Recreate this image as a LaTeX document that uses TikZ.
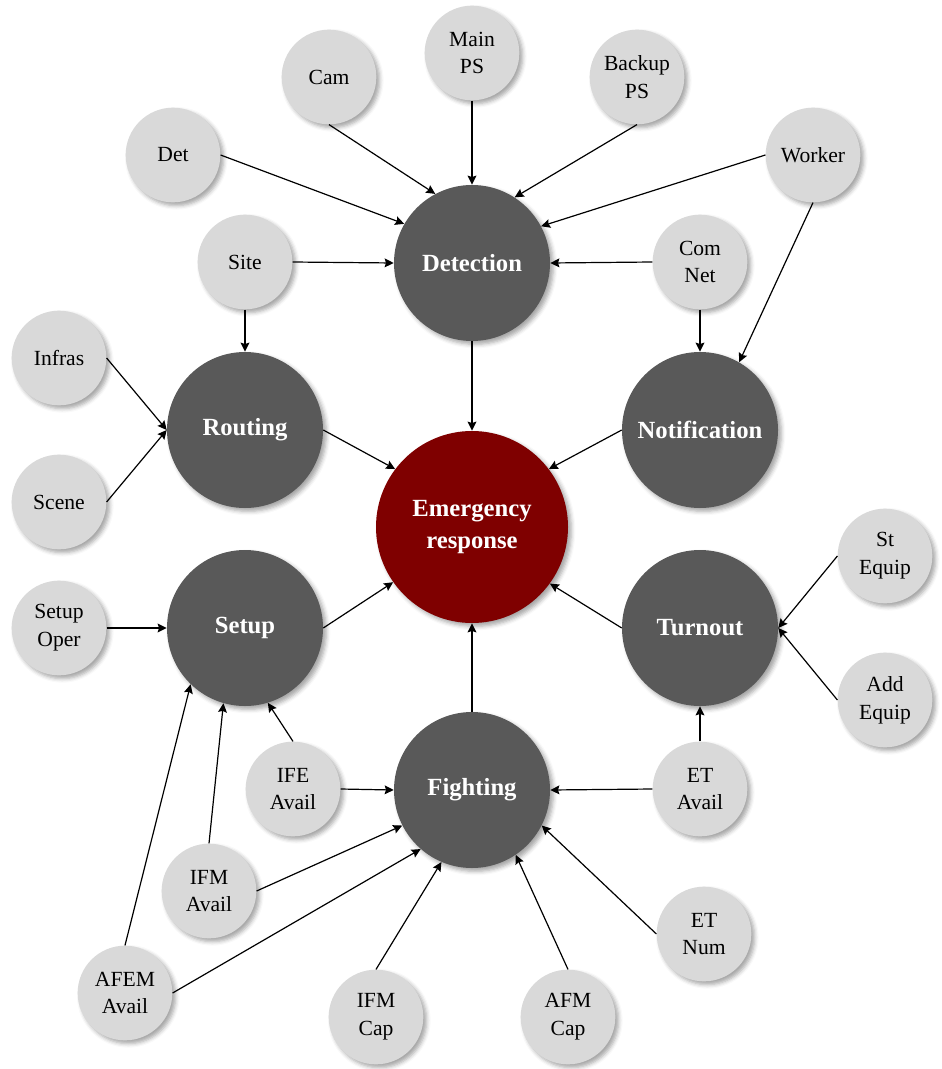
\documentclass[tikz,border=0pt]{standalone}
\usepackage{fontspec}
\setmainfont{Liberation Serif}
\usetikzlibrary{arrows.meta, shadows.blur}
\definecolor{factgray}{HTML}{D9D9D9}
\definecolor{stagegray}{HTML}{595959}
\definecolor{respred}{HTML}{7F0000}

\begin{document}
\begin{tikzpicture}[
  x=0.75pt, y=-0.75pt,
  >={Stealth[length=6.8pt, width=6.6pt, inset=1pt]},
  shade/.style={blur shadow={shadow xshift=2.5pt, shadow yshift=-2.5pt,
    shadow blur radius=3pt, shadow opacity=35}},
  factor/.style={
    circle, fill=factgray, shade, minimum size=71pt, inner sep=0pt,
    align=center, text=black, font=\fontsize{16.2}{20.8}\selectfont,
  },
  stage/.style={
    circle, fill=stagegray, shade, minimum size=117pt, inner sep=0pt,
    align=center, text=white, font=\fontsize{18.5}{23.5}\selectfont\bfseries,
  },
  core/.style={stage, fill=respred, minimum size=144pt},
  arr/.style={->, line width=0.9pt, black},
]
\useasboundingbox (0,0) rectangle (941,1069);

% === STAGES ===
\node[core] (resp) at (472,527) {Emergency\\response};
\node[stage] (detect) at (472,263) {Detection};
\node[stage] (rout) at (245,430) {Routing};
\node[stage] (notif) at (700,430) {Notification};
\node[stage] (setup) at (245,628) {Setup};
\node[stage] (turn) at (700,628) {Turnout};
\node[stage] (fight) at (472,790) {Fighting};

% === FACTORS ===
\foreach \nm/\px/\py/\txt in {
    cam/329/77/Cam, mainps/472/53/Main\\PS, backps/637/77/Backup\\PS,
    det/173/155/Det, worker/813/155/Worker,
    site/245/262/Site, comnet/700/262/Com\\Net,
    infras/59/358/Infras, scene/59/502/Scene, setoper/59/628/Setup\\Oper,
    stequip/885/556/St\\Equip, addequip/885/700/Add\\Equip,
    ifeav/293/789/IFE\\Avail, etav/700/789/ET\\Avail,
    ifmav/209/891/IFM\\Avail, etnum/704/934/ET\\Num,
    afem/125/993/AFEM\\Avail, ifmcap/376/1017/IFM\\Cap, afmcap/568/1017/AFM\\Cap} {
  \node[factor] (\nm) at (\px,\py) {\txt};
}

% Detection inputs
\draw[arr] (det.east) -- (detect.150);
\draw[arr] (cam.south) -- (detect.118);
\draw[arr] (mainps.south) -- (detect.north);
\draw[arr] (backps.south) -- (detect.57);
\draw[arr] (worker.west) -- (detect.28);
\draw[arr] (site.east) -- (detect.west);
\draw[arr] (comnet.west) -- (detect.east);

% Notification and routing inputs
\draw[arr] (comnet.south) -- (notif.north);
\draw[arr] (worker.south) -- (notif.60);
\draw[arr] (site.south) -- (rout.north);
\draw[arr] (infras.east) -- (rout.west);
\draw[arr] (scene.east) -- (rout.west);

% Setup inputs
\draw[arr] (setoper.east) -- (setup.west);
\draw[arr] (afem.north) -- (setup.226);
\draw[arr] (ifmav.north) -- (setup.254);
\draw[arr] (ifeav.north) -- (setup.287);

% Fighting inputs
\draw[arr] (ifeav.east) -- (fight.west);
\draw[arr] (ifmav.east) -- (fight.207);
\draw[arr] (afem.east) -- (fight.229);
\draw[arr] (ifmcap.north) -- (fight.247);
\draw[arr] (afmcap.north) -- (fight.304);
\draw[arr] (etnum.west) -- (fight.333);
\draw[arr] (etav.west) -- (fight.east);

% Turnout inputs
\draw[arr] (etav.north) -- (turn.south);
\draw[arr] (stequip.west) -- (turn.east);
\draw[arr] (addequip.west) -- (turn.east);

% Stages into response
\draw[arr] (detect.south) -- (resp.north);
\draw[arr] (rout.east) -- (resp.143);
\draw[arr] (notif.west) -- (resp.37);
\draw[arr] (setup.east) -- (resp.215);
\draw[arr] (turn.west) -- (resp.324);
\draw[arr] (fight.north) -- (resp.south);

\end{tikzpicture}
\end{document}
